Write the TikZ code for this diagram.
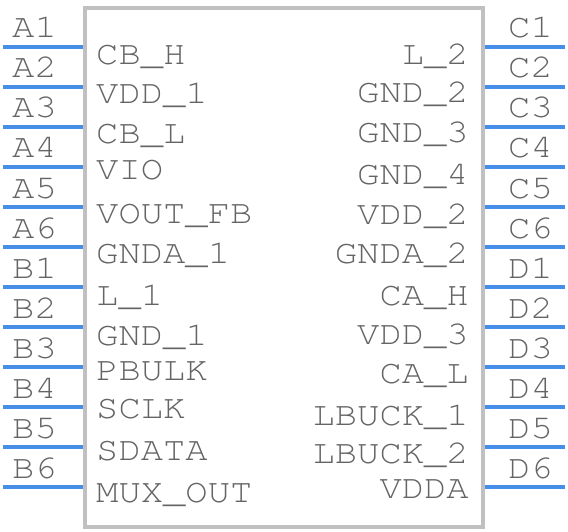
\documentclass[tikz,border=0pt]{standalone}
\usepackage{fontspec}
\setmonofont[FakeStretch=1.11]{TeX Gyre Cursor}
\definecolor{pinblue}{RGB}{70,142,232}
\definecolor{txtgray}{RGB}{100,100,100}
\definecolor{bodygray}{RGB}{192,192,192}
\tikzset{
  lbl/.style={font=\ttfamily\fontsize{33.5}{36}\selectfont, text=txtgray, inner sep=0pt},
  pinline/.style={draw=pinblue, line width=3.2pt},
  bodybox/.style={draw=bodygray, line width=4pt, inner sep=0pt, minimum width=398pt, minimum height=518pt}
}
\begin{document}
\begin{tikzpicture}[x=1pt,y=-1pt]
\useasboundingbox (0,0) rectangle (568,532);
\node[bodybox] (body) at (284,267.5) {};
% left pins
\foreach \n [count=\i from 0] in {A1,A2,A3,A4,A5,A6,B1,B2,B3,B4,B5,B6}{
  \pgfmathsetmacro\yy{47+40*\i}
  \coordinate (pl\n) at (3,\yy);
  \coordinate (bl\n) at (83,\yy);
  \draw[pinline] (pl\n) -- (bl\n);
  \node[lbl, anchor=base west] (n\n) at (12,\yy-9) {\n};
}
% right pins
\foreach \n [count=\i from 0] in {C1,C2,C3,C4,C5,C6,D1,D2,D3,D4,D5,D6}{
  \pgfmathsetmacro\yy{47+40*\i}
  \coordinate (br\n) at (485,\yy);
  \coordinate (pr\n) at (565,\yy);
  \draw[pinline] (br\n) -- (pr\n);
  \node[lbl, anchor=base west] (n\n) at (508,\yy-9) {\n};
}
% left labels
\foreach \t/\b [count=\i] in {CB\_H/65, VDD\_1/104, CB\_L/144, VIO/180, VOUT\_FB/223, GNDA\_1/263, L\_1/305, GND\_1/345, PBULK/380, SCLK/418, SDATA/460, MUX\_OUT/502}{
  \node[lbl, anchor=base west] (ll\i) at (96,\b) {\t};
}
% right labels
\foreach \t/\b [count=\i] in {L\_2/65, GND\_2/103, GND\_3/143, GND\_4/185, VDD\_2/225, GNDA\_2/263, CA\_H/305, VDD\_3/344, CA\_L/383, LBUCK\_1/425, LBUCK\_2/463, VDDA/498}{
  \node[lbl, anchor=base east] (rl\i) at (469,\b) {\t};
}
\end{tikzpicture}
\end{document}
